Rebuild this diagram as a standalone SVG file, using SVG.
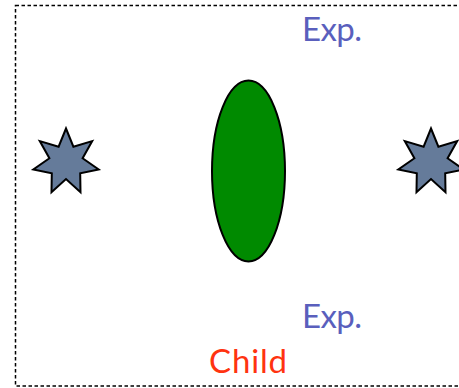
<svg xmlns="http://www.w3.org/2000/svg" width="459" height="388" viewBox="0 0 459 388">
<style>
.frame{fill:none;stroke:#000;stroke-width:1.5;stroke-dasharray:3.5,2.5}
.star{fill:#657b9a;stroke:#000;stroke-width:2;stroke-linejoin:miter}
.exp{font-family:Lato,"Open Sans",sans-serif;font-size:33px;fill:#5a5fbd}
.child{font-family:Lato,"Open Sans",sans-serif;font-size:33px;fill:#ff3310}
</style>
<defs>
<polygon id="star7" points="0,-33.5 7.4,-15.3 26.2,-20.9 16.6,-3.8 32.7,7.5 14.2,11.3 14.5,30.2 0,17 -14.5,30.2 -14.2,11.3 -32.7,7.5 -16.6,-3.8 -26.2,-20.9 -7.4,-15.3"/>
</defs>
<g id="frame"><rect class="frame" x="15.5" y="5.5" width="460" height="380.5"/></g>
<g id="starLeft"><use href="#star7" class="star" transform="translate(66,162)"/></g>
<g id="starRight"><use href="#star7" class="star" transform="translate(431,162)"/></g>
<g id="ellipse"><ellipse cx="248.5" cy="171" rx="36.5" ry="90.5" fill="#008a00" stroke="#000" stroke-width="2"/></g>
<g id="labels">
<text class="exp" x="302" y="41" textLength="60">Exp.</text>
<text class="exp" x="302" y="328" textLength="60">Exp.</text>
<text class="child" x="209" y="373" textLength="78">Child</text>
</g>
<g id="connectors"/>
</svg>
